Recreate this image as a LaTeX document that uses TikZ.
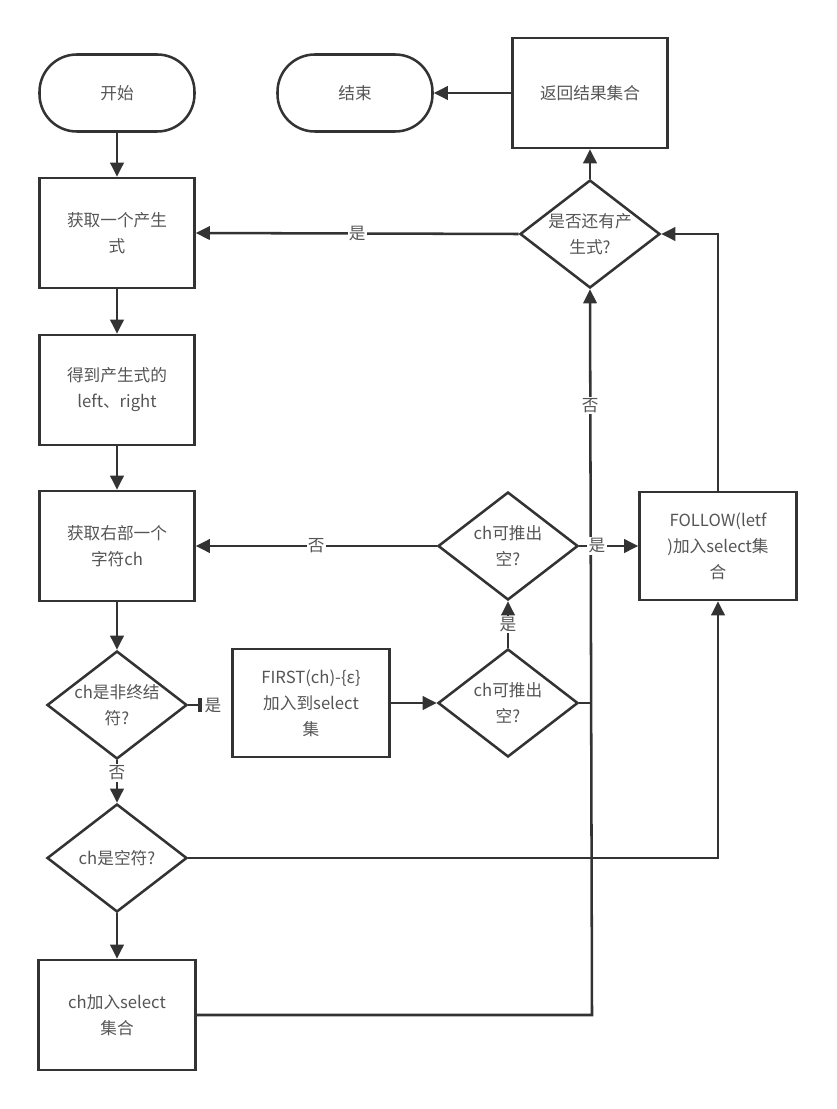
\documentclass[tikz,border=0pt]{standalone}
\usepackage{fontspec}
\setmainfont{Noto Sans CJK SC}
\usetikzlibrary{shapes.geometric,arrows.meta,positioning}
\definecolor{lc}{HTML}{333333}
\definecolor{tc}{HTML}{555555}
\begin{document}
\begin{tikzpicture}[x=0.75pt,y=-0.75pt,
  every node/.style={font=\fontsize{12.5pt}{19.5pt}\selectfont, text=tc},
  box/.style={draw=lc, line width=1.9pt, rectangle, minimum width=116.25pt, minimum height=82.5pt, align=center, inner sep=2pt},
  term/.style={draw=lc, line width=1.9pt, rectangle, rounded corners=28pt, minimum width=116.25pt, minimum height=57.75pt, align=center},
  dec/.style={draw=lc, line width=1.9pt, diamond, minimum width=105pt, minimum height=81pt, inner sep=0pt},
  conn/.style={draw=lc, line width=1.9pt, -{Triangle[length=10.5pt,width=10pt]}},
  plain/.style={draw=lc, line width=1.9pt},
  lab/.style={fill=white, inner sep=1pt}
]
\useasboundingbox (0,0) rectangle (836,1109);

% nodes
\node[term] (start) at (117,93) {开始};
\node[term] (end) at (355,93) {结束};
\node[box] (ret) at (590,93) {返回结果集合};
\node[dec, label={[align=center,text=tc]center:是否还有产\\生式?}] (more) at (590,234) {};
\node[box] (get) at (117,233) {获取一个产生\\式};
\node[box] (lr) at (117,390) {得到产生式的\\left、right};
\node[box] (gch) at (117,546) {获取右部一个\\字符ch};
\node[dec, label={[align=center,text=tc]center:ch可推出\\空?}] (emp1) at (508,546) {};
\node[box, minimum width=117.75pt, minimum height=81pt] (follow) at (718,546) {FOLLOW(letf\\)加入select集\\合};
\node[dec, label={[align=center,text=tc]center:ch是非终结\\符?}] (nt) at (117,705) {};
\node[box, minimum width=117.75pt, minimum height=81pt] (first) at (311,703) {FIRST(ch)-\{ε\}\\加入到select\\集};
\node[dec, label={[align=center,text=tc]center:ch可推出\\空?}] (emp2) at (508,703) {};
\node[dec, label={[align=center,text=tc]center:ch是空符?}] (isemp) at (117,858) {};
\node[box, minimum width=117.75pt] (add) at (117,1015) {ch加入select\\集合};

\coordinate (bar) at (202,705);
\coordinate (vx) at (592,1015);
\coordinate (vj) at (592,703);
\coordinate (fr) at (718,858);
\coordinate (ft) at (718,234);

% connectors
\draw[conn] (start) -- (get);
\draw[conn] (get) -- (lr);
\draw[conn] (lr) -- (gch);
\draw[conn] (gch) -- (nt);
\draw[draw=lc, line width=1.9pt, -{Bar[width=10pt,line width=3pt]}] (nt.east) -- (bar);
\node[lab, anchor=west] (yes1) at (203,706) {是};
\draw[conn] (nt.south) -- node[lab, pos=0.3] (no1) {否} (isemp.north);
\draw[conn] (isemp.south) -- (add.north);
\draw[conn] (isemp.east) -- (fr) -- (follow.south);
\draw[conn] (add.east) -- (vx) -- node[lab, pos=0.84] (no3) {否} (more.south);
\draw[plain] (emp2.east) -- (vj);
\draw[conn] (first.east) -- (emp2.west);
\draw[conn] (emp2.north) -- node[lab, pos=0.5] (yes2) {是} (emp1.south);
\draw[conn] (emp1.west) -- node[lab, pos=0.5] (no2) {否} (gch.east);
\draw[conn] (emp1.east) -- node[lab, pos=0.3] (yes3) {是} (follow.west);
\draw[conn] (follow.north) -- (ft) -- (more.east);
\draw[conn] (more.west) -- node[lab, pos=0.5] (yes4) {是} (get.east);
\draw[conn] (more.north) -- (ret.south);
\draw[conn] (ret.west) -- (end.east);
\end{tikzpicture}
\end{document}
